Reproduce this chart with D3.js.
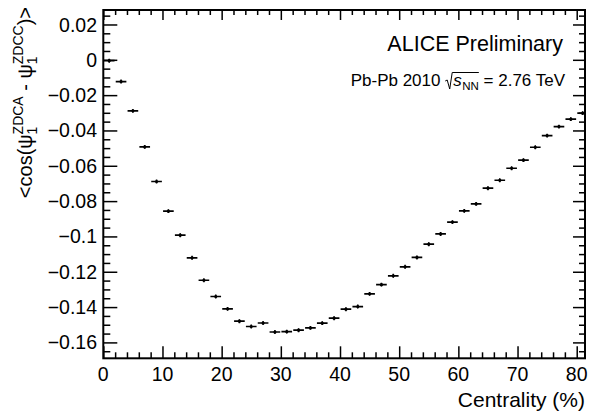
<!DOCTYPE html>
<html>
<head>
<meta charset="utf-8">
<script src="https://cdn.jsdelivr.net/npm/d3@7"></script>
<style>
  html, body { margin: 0; padding: 0; background: #fff; }
  svg { display: block; font-family: "Liberation Sans", Arial, Helvetica, sans-serif; }
</style>
</head>
<body>
<svg id="chart" width="590" height="415"></svg>
<script>
// Bin centres (centrality %, 2% wide bins)
const centrality = [1, 3, 5, 7, 9, 11, 13, 15, 17, 19, 21, 23, 25, 27, 29, 31, 33, 35, 37, 39,
                    41, 43, 45, 47, 49, 51, 53, 55, 57, 59, 61, 63, 65, 67, 69, 71, 73, 75, 77, 79, 81];
// <cos(psi1_ZDCA - psi1_ZDCC)> per bin
const meanCos = [-0.0005, -0.0123, -0.0289, -0.0493, -0.0689, -0.0857, -0.0993, -0.1121, -0.1248, -0.1340,
                 -0.1410, -0.1480, -0.1510, -0.1490, -0.1541, -0.1539, -0.1531, -0.1518, -0.1491, -0.1463,
                 -0.1412, -0.1397, -0.1325, -0.1273, -0.1223, -0.1172, -0.1119, -0.1044, -0.0986, -0.0919,
                 -0.0855, -0.0816, -0.0727, -0.0682, -0.0614, -0.0568, -0.0495, -0.0429, -0.0378, -0.0336,
                 -0.0302];
// statistical uncertainties
const errCos = [0.0011, 0.0011, 0.0011, 0.0011, 0.0011, 0.0011, 0.0011, 0.0011, 0.0011, 0.0011,
                0.0011, 0.0011, 0.0011, 0.0011, 0.0011, 0.0011, 0.0011, 0.0011, 0.0011, 0.0011,
                0.0011, 0.0011, 0.0011, 0.0011, 0.0011, 0.0011, 0.0011, 0.0011, 0.0011, 0.0011,
                0.0011, 0.0011, 0.0011, 0.0011, 0.0011, 0.0011, 0.0011, 0.0011, 0.0011, 0.0011,
                0.0011];
const halfBin = 0.9;

const xTickValues = [0, 10, 20, 30, 40, 50, 60, 70, 80];
const xTickLabels = ["0", "10", "20", "30", "40", "50", "60", "70", "80"];
const yTickValues = [0.02, 0, -0.02, -0.04, -0.06, -0.08, -0.1, -0.12, -0.14, -0.16];
const yTickLabels = ["0.02", "0", "\u22120.02", "\u22120.04", "\u22120.06", "\u22120.08", "\u22120.1", "\u22120.12", "\u22120.14", "\u22120.16"];

const frame = { left: 103.3, right: 585, top: 10, bottom: 358.3 };
const svg = d3.select("#chart");

const x = d3.scaleLinear().domain([0, 81.4]).range([frame.left, frame.right]);
const y = d3.scaleLinear().domain([-0.169, 0.0282]).range([frame.bottom, frame.top]);

const xMinor = d3.range(0, 81.01, 2).filter(v => v % 10 !== 0);
const yMinor = d3.range(-0.165, 0.0251, 0.005).filter(v => Math.abs(Math.round(v * 1000) % 20) !== 0);

function styleAxis(g, width) {
  g.select(".domain").remove();
  g.selectAll(".tick line").attr("stroke", "#000").attr("stroke-width", width);
}

// bottom axis
const gBottom = svg.append("g").attr("transform", `translate(0,${frame.bottom})`);
gBottom.call(d3.axisTop(x).tickValues(xMinor).tickSize(6).tickFormat(""))
  .call(g => styleAxis(g, 1.5));
const gBottomMaj = svg.append("g").attr("transform", `translate(0,${frame.bottom})`);
gBottomMaj.call(d3.axisTop(x).tickValues(xTickValues).tickSize(12).tickFormat(""))
  .call(g => styleAxis(g, 1.5));
svg.append("g").selectAll("text").data(xTickValues).join("text")
  .attr("x", d => x(d)).attr("y", 380.5)
  .attr("text-anchor", "middle").attr("font-size", 19.5)
  .text((d, i) => xTickLabels[i]);

// top axis
svg.append("g").attr("transform", `translate(0,${frame.top})`)
  .call(d3.axisBottom(x).tickValues(xMinor).tickSize(5).tickFormat(""))
  .call(g => styleAxis(g, 1.5));
svg.append("g").attr("transform", `translate(0,${frame.top})`)
  .call(d3.axisBottom(x).tickValues(xTickValues).tickSize(10).tickFormat(""))
  .call(g => styleAxis(g, 1.5));

// left axis
svg.append("g").attr("transform", `translate(${frame.left},0)`)
  .call(d3.axisRight(y).tickValues(yMinor).tickSize(7).tickFormat(""))
  .call(g => styleAxis(g, 1.5));
svg.append("g").attr("transform", `translate(${frame.left},0)`)
  .call(d3.axisRight(y).tickValues(yTickValues).tickSize(14).tickFormat(""))
  .call(g => styleAxis(g, 1.5));
svg.append("g").selectAll("text").data(yTickValues).join("text")
  .attr("x", 97).attr("y", d => y(d)).attr("dy", "0.36em")
  .attr("text-anchor", "end").attr("font-size", 19.5)
  .text((d, i) => yTickLabels[i]);

// right axis
svg.append("g").attr("transform", `translate(${frame.right},0)`)
  .call(d3.axisLeft(y).tickValues(yMinor).tickSize(6).tickFormat(""))
  .call(g => styleAxis(g, 1.5));
svg.append("g").attr("transform", `translate(${frame.right},0)`)
  .call(d3.axisLeft(y).tickValues(yTickValues).tickSize(12).tickFormat(""))
  .call(g => styleAxis(g, 1.5));

// data points with error bars, clipped to the frame
svg.append("clipPath").attr("id", "plotClip").append("rect")
  .attr("x", frame.left).attr("y", frame.top)
  .attr("width", frame.right - frame.left).attr("height", frame.bottom - frame.top);
const pts = svg.append("g").attr("clip-path", "url(#plotClip)")
  .selectAll("g").data(centrality.map((c, i) => ({ c, v: meanCos[i], e: errCos[i] })))
  .join("g");
pts.append("line")
  .attr("x1", d => x(d.c - halfBin)).attr("x2", d => x(d.c + halfBin))
  .attr("y1", d => y(d.v)).attr("y2", d => y(d.v))
  .attr("stroke", "#000").attr("stroke-width", 1.7);
pts.append("line")
  .attr("x1", d => x(d.c)).attr("x2", d => x(d.c))
  .attr("y1", d => y(d.v - d.e)).attr("y2", d => y(d.v + d.e))
  .attr("stroke", "#000").attr("stroke-width", 1.5);
pts.append("circle")
  .attr("cx", d => x(d.c)).attr("cy", d => y(d.v)).attr("r", 1.6).attr("fill", "#000");

// frame
svg.append("rect")
  .attr("x", frame.left).attr("y", frame.top)
  .attr("width", frame.right - frame.left).attr("height", frame.bottom - frame.top)
  .attr("fill", "none").attr("stroke", "#000").attr("stroke-width", 2);

// rich-text helper: lays out runs left to right, returns total width
function layoutRuns(g, runs) {
  let cx = 0;
  const placed = [];
  runs.forEach(r => {
    const parts = r.stack ? r.stack : [r];
    let w = 0;
    parts.forEach(p => {
      const t = g.append("text")
        .attr("x", cx).attr("y", p.shift || 0)
        .attr("font-size", p.size)
        .attr("font-style", p.italic ? "italic" : null)
        .text(p.text);
      t.attr("xml:space", "preserve").style("white-space", "pre");
      const tw = t.node().getComputedTextLength();
      placed.push({ run: p, x: cx, w: tw });
      w = Math.max(w, tw);
    });
    if (r.after) r.after(cx, w);
    cx += w + (r.gap || 0);
  });
  return cx;
}

// axis titles
const xTitle = svg.append("text").attr("x", 585).attr("y", 407)
  .attr("text-anchor", "end").attr("font-size", 21).text("Centrality (%)");

const yOuter = svg.append("g").attr("transform", "translate(32,7) rotate(-90)");
const yInner = yOuter.append("g");
const fs = 20, ss = 14;
const yW = layoutRuns(yInner, [
  { text: "<cos(", size: fs },
  { text: "\u03C8", size: fs },
  { stack: [ { text: "ZDCA", size: ss, shift: -9 }, { text: "1", size: ss, shift: 5 } ] },
  { text: " - ", size: fs },
  { text: "\u03C8", size: fs },
  { stack: [ { text: "ZDCC", size: ss, shift: -9 }, { text: "1", size: ss, shift: 5 } ] },
  { text: ")>", size: fs }
]);
yInner.attr("transform", `translate(${-yW},0)`);

// annotations
svg.append("text").attr("x", 563).attr("y", 51)
  .attr("text-anchor", "end").attr("font-size", 21.5).text("ALICE Preliminary");

const ann = svg.append("g");
const annInner = ann.append("g");
let radicalStart = 0;
const annW = layoutRuns(annInner, [
  { text: "Pb-Pb 2010 ", size: 17 },
  { text: "", size: 17, gap: 8, after: (cx) => { radicalStart = cx; } },
  { text: "s", size: 17, italic: true, gap: 0.5 },
  { text: "NN", size: 11.5, shift: 4 },
  { text: " = 2.76 TeV", size: 17 }
]);
// radical sign with overline spanning s_NN
const nnEnd = annW - annInner.selectAll("text").nodes().slice(-1)[0].getComputedTextLength();
annInner.append("path")
  .attr("d", `M${radicalStart},-5 L${radicalStart + 2},-6 L${radicalStart + 4.5},3 L${radicalStart + 7},-13.5 L${nnEnd},-13.5`)
  .attr("fill", "none").attr("stroke", "#000").attr("stroke-width", 1);
ann.attr("transform", `translate(${565 - annW},86)`);
</script>
</body>
</html>
